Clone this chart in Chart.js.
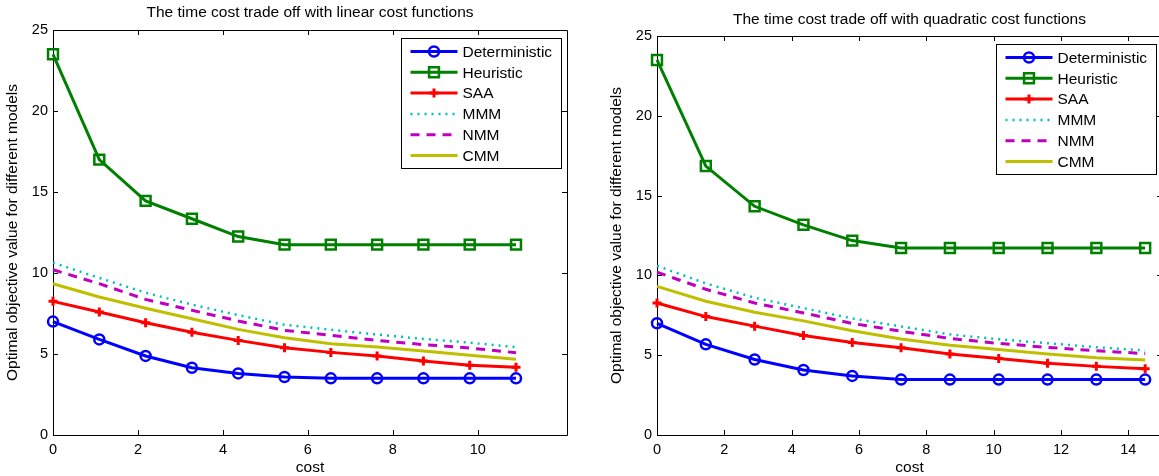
<!DOCTYPE html>
<html>
<head>
<meta charset="utf-8">
<script src="https://cdn.jsdelivr.net/npm/chart.js@4/dist/chart.umd.min.js"></script>
<style>
body{margin:0;background:#fff;overflow:hidden;width:1159px;height:476px;position:relative;}
canvas{position:absolute;top:0;}
#linear{left:0;}
#quad{left:580px;}
</style>
</head>
<body>
<canvas id="linear" width="580" height="476" style="width:580px;height:476px"></canvas>
<canvas id="quad" width="600" height="476" style="width:600px;height:476px"></canvas>
<script>
const seriesNames = ['Deterministic','Heuristic','SAA','MMM','NMM','CMM'];
const yTicks = [0, 5, 10, 15, 20, 25];

// linear cost functions
const costLinear = [0, 1.09, 2.18, 3.27, 4.36, 5.45, 6.54, 7.63, 8.72, 9.81, 10.9];
const xTicksLinear = [0, 2, 4, 6, 8, 10];
const detLinear  = [7.0, 5.9, 4.88, 4.15, 3.8, 3.58, 3.5, 3.5, 3.5, 3.5, 3.5];
const heurLinear = [23.5, 17.0, 14.45, 13.35, 12.25, 11.75, 11.75, 11.75, 11.75, 11.75, 11.75];
const saaLinear  = [8.25, 7.59, 6.93, 6.34, 5.84, 5.39, 5.1, 4.88, 4.57, 4.3, 4.18];
const mmmLinear  = [10.64, 9.7, 8.78, 8.05, 7.4, 6.8, 6.5, 6.2, 5.93, 5.7, 5.42];
const nmmLinear  = [10.2, 9.34, 8.37, 7.7, 7.04, 6.46, 6.15, 5.84, 5.58, 5.37, 5.08];
const cmmLinear  = [9.34, 8.52, 7.82, 7.18, 6.52, 6.0, 5.64, 5.43, 5.19, 4.92, 4.67];

// quadratic cost functions
const costQuad = [0, 1.45, 2.9, 4.35, 5.8, 7.25, 8.7, 10.15, 11.6, 13.05, 14.5];
const xTicksQuad = [0, 2, 4, 6, 8, 10, 12, 14];
const detQuad  = [7.0, 5.68, 4.73, 4.07, 3.7, 3.47, 3.47, 3.47, 3.47, 3.47, 3.47];
const heurQuad = [23.5, 16.85, 14.33, 13.17, 12.18, 11.72, 11.72, 11.72, 11.72, 11.72, 11.72];
const saaQuad  = [8.27, 7.42, 6.82, 6.24, 5.8, 5.46, 5.08, 4.79, 4.5, 4.3, 4.15];
const mmmQuad  = [10.6, 9.5, 8.6, 7.95, 7.3, 6.8, 6.3, 6.0, 5.75, 5.5, 5.3];
const nmmQuad  = [10.2, 9.13, 8.27, 7.65, 6.99, 6.5, 6.05, 5.74, 5.49, 5.28, 5.1];
const cmmQuad  = [9.31, 8.38, 7.69, 7.15, 6.53, 6.01, 5.63, 5.36, 5.07, 4.84, 4.7];

const FONT = 'Liberation Sans, Arial, Helvetica, sans-serif';

const styles = [
  {borderColor:'#0000ff', borderWidth:3, pointStyle:'circle', pointRadius:5, pointBorderWidth:2.5},
  {borderColor:'#008000', borderWidth:3, pointStyle:'rect', pointRadius:7, pointBorderWidth:2.5},
  {borderColor:'#ff0000', borderWidth:3, pointStyle:'cross', pointRadius:4.5, pointBorderWidth:3},
  {borderColor:'#00bfbf', borderWidth:2.5, borderDash:[2,5], pointRadius:0},
  {borderColor:'#bf00bf', borderWidth:3, borderDash:[9,7], pointRadius:0},
  {borderColor:'#bfbf00', borderWidth:3, pointRadius:0}
];

function toPoints(xs, ys){ return xs.map((x,i)=>({x:x, y:ys[i]})); }

// matlab style box: frame with inward ticks on all four sides
const boxAxes = {
  id:'boxAxes',
  beforeDatasetsDraw(chart){
    const {ctx, chartArea:a, scales:{x, y}} = chart;
    ctx.save();
    ctx.strokeStyle = '#000';
    ctx.lineWidth = 1;
    ctx.beginPath();
    ctx.rect(a.left+0.5, a.top+0.5, a.right-a.left, a.bottom-a.top);
    x.ticks.forEach(t=>{
      const px = Math.round(x.getPixelForValue(t.value))+0.5;
      ctx.moveTo(px, a.bottom); ctx.lineTo(px, a.bottom-5);
      ctx.moveTo(px, a.top); ctx.lineTo(px, a.top+5);
    });
    y.ticks.forEach(t=>{
      const py = Math.round(y.getPixelForValue(t.value))+0.5;
      ctx.moveTo(a.left, py); ctx.lineTo(a.left+5, py);
      ctx.moveTo(a.right, py); ctx.lineTo(a.right-5, py);
    });
    ctx.stroke();
    ctx.restore();
  }
};

// legend box in the upper right corner, line samples with markers
const boxLegend = {
  id:'boxLegend',
  afterDraw(chart){
    const {ctx, chartArea:a} = chart;
    const w = 160, h = 130;
    const left = a.right - 6.5 - w, top = a.top + 7.5;
    ctx.save();
    ctx.fillStyle = '#fff';
    ctx.fillRect(left, top, w, h);
    ctx.strokeStyle = '#000';
    ctx.lineWidth = 1;
    ctx.strokeRect(Math.round(left)+0.5, Math.round(top)+0.5, w, h);
    chart.data.datasets.forEach((ds, i)=>{
      const cy = top + 14 + i*20.8;
      ctx.strokeStyle = ds.borderColor;
      ctx.lineWidth = ds.borderWidth;
      ctx.setLineDash(ds.borderDash || []);
      ctx.beginPath();
      ctx.moveTo(left+10, cy); ctx.lineTo(left+57, cy);
      ctx.stroke();
      ctx.setLineDash([]);
      if (ds.pointRadius > 0) {
        ctx.fillStyle = 'rgba(0,0,0,0)';
        ctx.lineWidth = ds.pointBorderWidth;
        Chart.helpers.drawPoint(ctx, {pointStyle:ds.pointStyle, radius:ds.pointRadius, rotation:0, borderWidth:ds.pointBorderWidth}, left+33.5, cy);
      }
      ctx.fillStyle = '#000';
      ctx.font = '15.5px ' + FONT;
      ctx.textBaseline = 'middle';
      ctx.textAlign = 'left';
      ctx.fillText(ds.label, left+62, cy+1);
    });
    ctx.restore();
  }
};

function makeChart(id, cost, series, xTicks, xMax, title, opt){
  return new Chart(document.getElementById(id), {
    type:'line',
    data:{
      datasets: series.map((ys, i)=>Object.assign({
        label: seriesNames[i],
        data: toPoints(cost, ys),
        pointBackgroundColor:'rgba(0,0,0,0)',
        pointBorderColor: styles[i].borderColor,
        tension:0,
        clip:false,
        order: series.length - i
      }, styles[i]))
    },
    options:{
      responsive:false,
      animation:false,
      events:[],
      layout:{padding:{left:0, top:0, right:opt.padRight, bottom:0}},
      plugins:{
        legend:{display:false},
        tooltip:{enabled:false},
        title:{display:true, text:title, fullSize:false, color:'#000',
          font:{family:FONT, size:15.5, weight:'normal', lineHeight:1.2},
          padding:{top:opt.titleTop, bottom:opt.chartTop - opt.titleTop - 18.6}}
      },
      scales:{
        x:{type:'linear', min:0, max:xMax,
          afterBuildTicks: s => { s.ticks = xTicks.map(v=>({value:v})); },
          afterFit: s => { s.height = 476 - 435; },
          grid:{display:false, drawTicks:false}, border:{display:false},
          ticks:{color:'#000', font:{family:FONT, size:14.5}, padding:6, maxRotation:0, autoSkip:false},
          title:{display:true, text:'cost', color:'#000', font:{family:FONT, size:15.5, lineHeight:1}, padding:{top:0, bottom:1}}
        },
        y:{type:'linear', min:0, max:25,
          afterBuildTicks: s => { s.ticks = yTicks.map(v=>({value:v})); },
          afterFit: s => { s.width = opt.axisLeft; },
          grid:{display:false, drawTicks:false}, border:{display:false},
          ticks:{color:'#000', font:{family:FONT, size:14.5}, padding:5},
          title:{display:true, text:'Optimal objective value for different models', color:'#000',
            font:{family:FONT, size:15.5, lineHeight:1}, padding:{top:opt.yTitle - 7.75, bottom:0}}
        }
      }
    },
    plugins:[boxAxes, boxLegend]
  });
}

const chartLinear = makeChart('linear', costLinear,
  [detLinear, heurLinear, saaLinear, mmmLinear, nmmLinear, cmmLinear],
  xTicksLinear, 12.1, 'The time cost trade off with linear cost functions',
  {padRight:13, titleTop:3.5, chartTop:30, axisLeft:53, yTitle:13});

const chartQuad = makeChart('quad', costQuad,
  [detQuad, heurQuad, saaQuad, mmmQuad, nmmQuad, cmmQuad],
  xTicksQuad, 15, 'The time cost trade off with quadratic cost functions',
  {padRight:18, titleTop:10.5, chartTop:36, axisLeft:77, yTitle:37});
</script>
</body>
</html>
